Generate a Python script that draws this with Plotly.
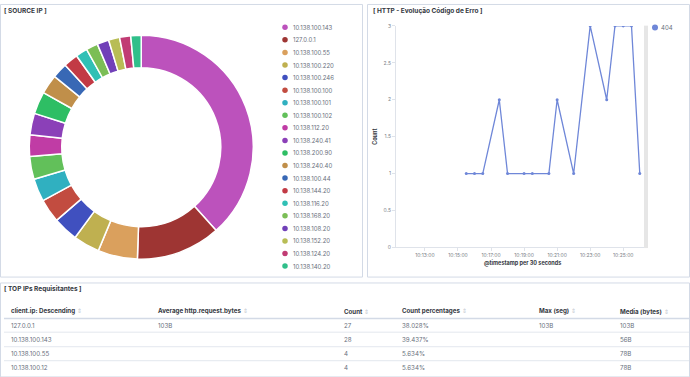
import plotly.graph_objects as go

W, H = 690, 377


def px(x):
    return x / W


def py(y):
    return 1 - y / H


FONT = "Inter"
DARK = "#343741"
GRAY = "#69707d"
BORDER = "#d3dae6"

# ---------------- Data ----------------
ip_labels = [
    "10.138.100.143", "127.0.0.1", "10.138.100.55", "10.138.100.220",
    "10.138.100.246", "10.138.100.100", "10.138.100.101", "10.138.100.102",
    "10.138.112.20", "10.138.240.41", "10.138.200.90", "10.138.240.40",
    "10.138.100.44", "10.138.144.20", "10.138.116.20", "10.138.168.20",
    "10.138.108.20", "10.138.152.20", "10.138.124.20", "10.138.140.20",
]
ip_share = [38.3, 12.2, 5.7, 3.8, 3.6, 3.4, 3.3, 3.3, 3.1, 3.1,
            3.2, 2.8, 2.2, 2.1, 1.7, 1.7, 1.7, 1.6, 1.6, 1.5]
ip_colors = [
    "#bc52bc", "#9e3533", "#daa05d", "#bfb050", "#4050bf", "#c24c40",
    "#30b0c0", "#62c05a", "#c03ca5", "#8b40b8", "#2ebe64", "#c08f4a",
    "#3868b5", "#c23a45", "#30c0b5", "#7bbe56", "#7140b8", "#b8bd55",
    "#c13c74", "#30bf8a",
]

day = "2019-06-12 "
err_times = ["10:15:30", "10:16:00", "10:16:30", "10:17:30", "10:18:00",
             "10:19:00", "10:19:30", "10:20:30", "10:21:00", "10:22:00",
             "10:23:00", "10:24:00", "10:24:30", "10:25:00", "10:25:30",
             "10:26:00"]
err_counts = [1, 1, 1, 2, 1, 1, 1, 1, 2, 1, 3, 2, 3, 3, 3, 1]
err_series = "404"
x_range = ["10:11:15", "10:26:19"]

table_headers = ["client.ip: Descending", "Average http.request.bytes", "Count",
                 "Count percentages", "Max (seg)", "Media (bytes)"]
client_ips = ["127.0.0.1", "10.138.100.143", "10.138.100.55", "10.138.100.12"]
avg_bytes = ["103B", "", "", ""]
counts = [27, 28, 4, 4]
count_pct = ["38.028%", "39.437%", "5.634%", "5.634%"]
max_seg = ["103B", "", "", ""]
media_bytes = ["103B", "56B", "78B", "78B"]

# ---------------- Figure ----------------
fig = go.Figure()

# Donut
fig.add_trace(go.Pie(
    labels=ip_labels, values=ip_share, sort=False, direction="clockwise",
    rotation=0, hole=0.71, textinfo="none", showlegend=False,
    marker=dict(colors=ip_colors, line=dict(color="white", width=1.5)),
    domain=dict(x=[px(27.5), px(255)], y=[py(260.3), py(32.7)]),
))

# Custom pie legend (hidden axis x3/y3)
n = len(ip_labels)
fig.add_trace(go.Scatter(
    x=[0] * n, y=list(range(n)), mode="markers", xaxis="x3", yaxis="y3",
    marker=dict(color=ip_colors, size=5.5), showlegend=False, hoverinfo="skip",
))

# Line chart
fig.add_trace(go.Scatter(
    x=[day + t for t in err_times], y=err_counts, mode="lines+markers",
    name=err_series, line=dict(color="#6f87d8", width=1.3),
    marker=dict(size=3, color="#6f87d8"), showlegend=False,
    xaxis="x", yaxis="y",
))
# legend dot for the line series (hidden axis x4/y4)
fig.add_trace(go.Scatter(
    x=[0], y=[0], mode="markers", xaxis="x4", yaxis="y4",
    marker=dict(color="#6f87d8", size=6), showlegend=False, hoverinfo="skip",
))

annotations = []
shapes = []


def txt(x, y, s, size=6, color=DARK, anchor="left", **kw):
    annotations.append(dict(
        x=px(x), y=py(y), xref="paper", yref="paper", text=s, showarrow=False,
        xanchor=anchor, yanchor="middle", font=dict(family=FONT, size=size, color=color),
        **kw))


# panel borders
for (x0, y0, x1, y1) in [(0.5, 1.5, 362.5, 278.5), (367.5, 1.5, 689.5, 278.5),
                         (0.5, 284.5, 689.5, 380)]:
    shapes.append(dict(type="rect", xref="paper", yref="paper",
                       x0=px(x0), x1=px(x1), y0=py(y1), y1=py(y0),
                       line=dict(color=BORDER, width=1), fillcolor="rgba(0,0,0,0)"))

# panel titles
txt(2, 8, "<b>[ SOURCE IP ]</b>", size=6.5)
txt(371, 8, "<b>[ HTTP - Evolução Código de Erro ]</b>", size=6.5)
txt(2, 291, "<b>[ TOP IPs Requisitantes ]</b>", size=6.5)

# pie legend labels
for i, lab in enumerate(ip_labels):
    annotations.append(dict(
        x=6, y=i, xref="x3", yref="y3", text=lab, showarrow=False,
        xanchor="left", yanchor="middle", font=dict(family=FONT, size=6, color=GRAY)))

# line legend label
annotations.append(dict(x=4, y=0, xref="x4", yref="y4", text=err_series, showarrow=False,
                        xanchor="left", yanchor="middle",
                        font=dict(family=FONT, size=6, color=GRAY)))

# axis titles
txt(375, 136, "<b>Count</b>", size=5.5, anchor="center", textangle=-90)
txt(522, 264.5, "<b>@timestamp per 30 seconds</b>", size=5.5, anchor="center")

# legend separator bar
shapes.append(dict(type="rect", xref="paper", yref="paper", x0=px(644), x1=px(648),
                   y0=py(249), y1=py(23), line=dict(width=0), fillcolor="#e6e6e6"))

# table
col_x = [9, 156, 342, 400, 537, 618]
header_y = 313.3
row_y = [327.7, 342, 356.3, 370.7]
sort_icon = " <span style='color:#c5c9d1'>⇕</span>"
for cx, h in zip(col_x, table_headers):
    txt(cx, header_y, "<b>" + h + "</b>" + sort_icon, size=6.2)
columns = [client_ips, avg_bytes, [str(c) for c in counts], count_pct, max_seg, media_bytes]
for cx, col in zip(col_x, columns):
    for ry, val in zip(row_y, col):
        if val:
            txt(cx, ry, val, size=6.2, color=GRAY)
shapes.append(dict(type="line", xref="paper", yref="paper", x0=px(4), x1=px(689),
                   y0=py(320.5), y1=py(320.5), line=dict(color=BORDER, width=1.5)))
for ly in [334.5, 349.3, 363.5]:
    shapes.append(dict(type="line", xref="paper", yref="paper", x0=px(4), x1=px(689),
                       y0=py(ly), y1=py(ly), line=dict(color="#e3e7ee", width=1)))

# legend axis mapping: value 0 at y=24.7 px, step 12.77 px
step = 12.77
top_px, bot_px = 12, 280
y3_top = -(24.7 - top_px) / step
y3_bot = (n - 1) + (bot_px - (24.7 + step * (n - 1))) / step

fig.update_layout(
    width=W, height=H, margin=dict(l=0, r=0, t=0, b=0),
    paper_bgcolor="white", plot_bgcolor="white",
    font=dict(family=FONT, color=GRAY),
    annotations=annotations, shapes=shapes, showlegend=False,
    xaxis=dict(
        domain=[px(396), px(645)], type="date",
        range=[day + x_range[0], day + x_range[1]],
        tickformat="%H:%M:%S", dtick=120000, tick0=day + "10:13:00",
        showgrid=False, zeroline=False, showline=True, linecolor="#dfe3ea", linewidth=1,
        ticks="outside", ticklen=3, tickcolor="#dfe3ea",
        tickfont=dict(family=FONT, size=5, color="#7b7f88"), anchor="y",
    ),
    yaxis=dict(
        domain=[py(248.3), py(23.3)], range=[0, 3], dtick=0.5,
        showgrid=False, zeroline=False, showline=True, linecolor="#dfe3ea", linewidth=1,
        ticks="outside", ticklen=3, tickcolor="#dfe3ea",
        tickfont=dict(family=FONT, size=5, color="#7b7f88"), anchor="x",
    ),
    xaxis3=dict(domain=[px(280), px(360)], range=[-5, 75], visible=False, anchor="y3"),
    yaxis3=dict(domain=[py(bot_px), py(top_px)], range=[y3_bot, y3_top], visible=False, anchor="x3"),
    xaxis4=dict(domain=[px(650), px(690)], range=[-5, 35], visible=False, anchor="y4"),
    yaxis4=dict(domain=[py(35), py(15)], range=[-10, 10], visible=False, anchor="x4"),
)

fig.write_html(
    "out.html",
    config={"displayModeBar": False},
    post_script="document.body.style.margin='0';document.body.style.padding='0';"
                "document.body.style.overflow='hidden';",
)
